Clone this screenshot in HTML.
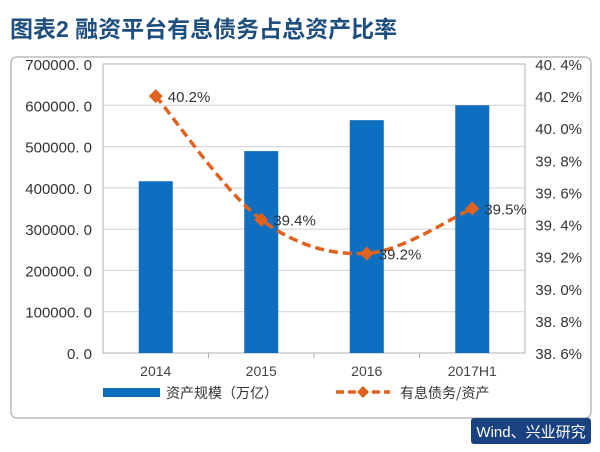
<!DOCTYPE html>
<html><head><meta charset="utf-8"><style>
body{margin:0;width:600px;height:447px;background:#fff;overflow:hidden;font-family:"Liberation Sans","Noto Sans CJK SC",sans-serif}
</style></head><body>
<svg id="c" width="600" height="447" xmlns="http://www.w3.org/2000/svg">
<text x="10" y="37" font-size="23" fill="#1f4f7e" font-family="Liberation Sans, Noto Sans CJK SC, sans-serif" font-weight="bold">图表2 融资平台有息债务占总资产比率</text>
<rect x="11" y="57" width="580" height="361" rx="6" fill="#fff" stroke="#9a9a9a" stroke-width="1"/>
<rect x="103" y="64" width="422" height="289" fill="#fff" stroke="#b0b0b0"/>
<g id="grid"></g><g id="bars"></g><g id="line"></g><g id="axes"></g>
<g>
<rect x="103" y="388" width="57" height="9" fill="#0e6ebf"/>
<text x="166" y="398" font-size="14" fill="#333" font-family="Noto Sans CJK SC, sans-serif">资产规模（万亿）</text>
<line x1="336" y1="392" x2="390" y2="392" stroke="#e0621f" stroke-width="3.5" stroke-dasharray="8,4"/>
<path d="M363 386 L369 392 L363 398 L357 392Z" fill="#e0621f"/>
<text x="400" y="398" font-size="14" fill="#333" font-family="Noto Sans CJK SC, sans-serif">有息债务/资产</text>
</g>
<rect x="471" y="418" width="120" height="26" rx="3" fill="#1a4280"/>
<text x="531" y="437" font-size="15" fill="#fff" text-anchor="middle" font-family="Liberation Sans, Noto Sans CJK SC, sans-serif">Wind、兴业研究</text>
</svg>
<script>
const categories=["2014","2015","2016","2017H1"];
const assets=[416000,489000,564000,600000];
const ratio=[40.2,39.43,39.22,39.5];
const ratioLabels=["40.2%","39.4%","39.2%","39.5%"];
const leftTicks=[0,100000,200000,300000,400000,500000,600000,700000];
const rightTicks=[38.6,38.8,39.0,39.2,39.4,39.6,39.8,40.0,40.2,40.4];
const NS="http://www.w3.org/2000/svg";
const X0=103,X1=525,Y0=353,Y1=64;
const yL=v=>Y0-(v/700000)*(Y0-Y1);
const yR=v=>Y0-((v-38.6)/1.8)*(Y0-Y1);
const bw=(X1-X0)/categories.length;
const xc=i=>X0+bw*(i+0.5);
function mk(t,a,p){const e=document.createElementNS(NS,t);for(const k in a)e.setAttribute(k,a[k]);document.getElementById(p).appendChild(e);return e;}
leftTicks.forEach((v,i)=>{
 if(i>0&&i<leftTicks.length-1){const g=mk("line",{x1:X0,x2:X1,y1:yL(v),y2:yL(v),stroke:"#d0d0d0"},"grid");
 
 }
 const t=mk("text",{x:92,y:yL(v)+6,"font-size":15,"text-anchor":"end",fill:"#333"},"axes");
 t.textContent=v.toFixed(1).replace(".",". ");
 
 
});
rightTicks.forEach(v=>{
 const t=mk("text",{x:582,y:yR(v)+6,"font-size":15,"text-anchor":"end",fill:"#333"},"axes");
 t.textContent=v.toFixed(1).replace(".",". ")+"%";
 
 
});
categories.forEach((c,i)=>{
 const b=mk("rect",{x:xc(i)-17,y:yL(assets[i]),width:34,height:Y0-yL(assets[i]),fill:"#0e6ebf"},"bars");
 
 
 const t=mk("text",{x:xc(i),y:376,"font-size":14,"text-anchor":"middle",fill:"#444"},"axes");
 t.textContent=c;
 
 
 if(i>0){const tk=mk("line",{x1:X0+bw*i,x2:X0+bw*i,y1:Y0,y2:Y0+5,stroke:"#b0b0b0"},"axes");
 
 }
});
const pts=ratio.map((v,i)=>[xc(i),yR(v)]);
let d="M"+pts[0][0]+" "+pts[0][1];
for(let i=1;i<pts.length;i++){const p0=pts[Math.max(i-2,0)],p1=pts[i-1],p2=pts[i],p3=pts[Math.min(i+1,pts.length-1)];
 d+=` C${p1[0]+(p2[0]-p0[0])/6} ${p1[1]+(p2[1]-p0[1])/6} ${p2[0]-(p3[0]-p1[0])/6} ${p2[1]-(p3[1]-p1[1])/6} ${p2[0]} ${p2[1]}`;}
const ln=mk("path",{d:d,fill:"none",stroke:"#e0621f","stroke-width":3.5,"stroke-dasharray":"9,5"},"line");


pts.forEach((p,i)=>{
 const m=mk("path",{d:`M${p[0]} ${p[1]-7} L${p[0]+7} ${p[1]} L${p[0]} ${p[1]+7} L${p[0]-7} ${p[1]}Z`,fill:"#e0621f"},"line");
 
 
 const t=mk("text",{x:p[0]+12,y:p[1]+6,"font-size":15,fill:"#333"},"line");
 t.textContent=ratioLabels[i];
 
 
});
</script>
</body></html>
